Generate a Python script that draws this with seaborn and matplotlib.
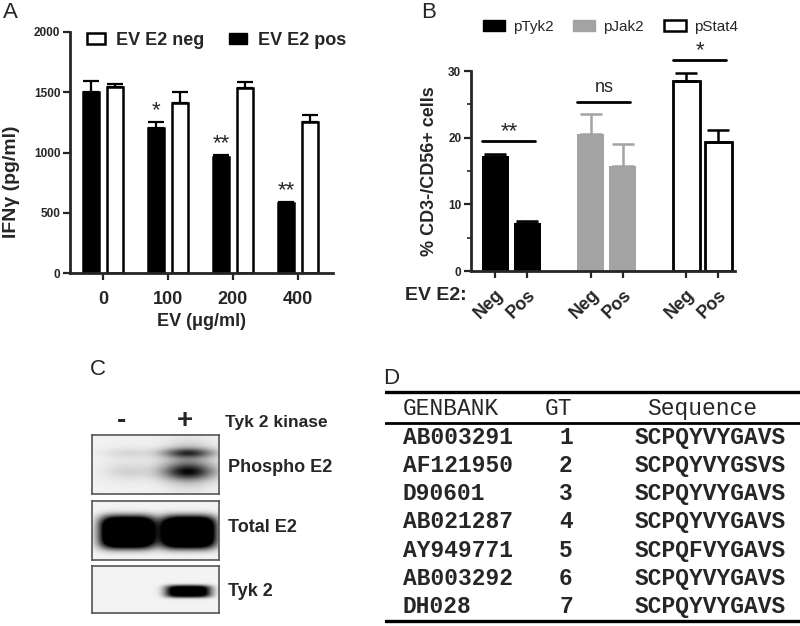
import matplotlib
matplotlib.use("Agg")
import matplotlib.pyplot as plt
from matplotlib.patches import Patch
import numpy as np
import pandas as pd
import seaborn as sns


# ── data ──────────────────────────────────────────────────────────────────────

# panel A: IFNγ release vs EV dose
doses = ["0", "100", "200", "400"]
ifng_pos = [1505, 1205, 965, 580]
ifng_pos_err = [85, 50, 15, 10]
ifng_neg = [1545, 1410, 1535, 1255]
ifng_neg_err = [20, 90, 50, 55]
stars_a = ["", "*", "**", "**"]

# panel B: % CD3-/CD56+ cells
proteins = ["pTyk2", "pJak2", "pStat4"]
conditions = ["Neg", "Pos"]
pct_neg = [17.2, 20.6, 28.5]
pct_neg_err = [0.4, 2.9, 1.2]
pct_pos = [7.2, 15.7, 19.4]
pct_pos_err = [0.25, 3.3, 1.8]
sig_b = ["**", "ns", "*"]

# panel C: western blot band strength per lane (0 = none, 1 = saturated)
blot_rows = ["Phospho E2", "Total E2", "Tyk 2"]
lanes = ["-", "+"]
phospho_signal = [0.10, 0.75]
total_signal = [1.0, 1.0]
tyk2_signal = [0.0, 0.95]

# panel D: table
genbank = ["AB003291", "AF121950", "D90601", "AB021287", "AY949771", "AB003292", "DH028"]
genotype = [1, 2, 3, 4, 5, 6, 7]
sequences = ["SCPQYVYGAVS", "SCPQYVYGSVS", "SCPQYVYGAVS", "SCPQYVYGAVS",
             "SCPQFVYGAVS", "SCPQYVYGAVS", "SCPQYVYGAVS"]


# ── helpers ───────────────────────────────────────────────────────────────────

W, H = 800, 626


def rect(x0, y0, x1, y1):
    return [x0 / W, 1 - y1 / H, (x1 - x0) / W, (y1 - y0) / H]


def ftext(x, y, s, **kw):
    return fig.text(x / W, 1 - y / H, s, **kw)


def sorted_bars(ax):
    return sorted(ax.patches, key=lambda p: p.get_x())


def band(xx, yy, cx, cy, wx, wy, p=4):
    return np.exp(-np.abs((xx - cx) / wx) ** p - np.abs((yy - cy) / wy) ** p)


sns.set_theme(style="ticks")
plt.rcParams["font.family"] = ["Liberation Sans", "DejaVu Sans"]
plt.rcParams["axes.linewidth"] = 2.0

fig = plt.figure(figsize=(8, 6.26), dpi=100)

# ── panel A ───────────────────────────────────────────────────────────────────

axA = fig.add_axes(rect(70, 32, 333, 273))
dfA = pd.DataFrame({"dose": doses * 2,
                    "ifng": ifng_pos + ifng_neg,
                    "group": ["pos"] * 4 + ["neg"] * 4})
sns.barplot(data=dfA, x="dose", y="ifng", hue="group", order=doses,
            hue_order=["pos", "neg"], palette={"pos": "black", "neg": "white"},
            width=0.74, gap=0.33, saturation=1, errorbar=None,
            edgecolor="black", linewidth=1.8, legend=False, ax=axA)

barsA = sorted_bars(axA)
tops = [v for pair in zip(ifng_pos, ifng_neg) for v in pair]
errs = [v for pair in zip(ifng_pos_err, ifng_neg_err) for v in pair]
cx = [b.get_x() + b.get_width() / 2 for b in barsA]
axA.errorbar(cx, tops, yerr=[np.zeros(len(errs)), errs], fmt="none",
             ecolor="black", elinewidth=1.6, capsize=6, capthick=1.6, zorder=1)
for i, s in enumerate(stars_a):
    if s:
        axA.text(cx[2 * i], ifng_pos[i] + ifng_pos_err[i] + 95, s,
                 ha="center", va="center", fontsize=16)

axA.set_ylim(0, 2000)
axA.set_xlim(-0.51, 3.54)
axA.set_yticks(range(0, 2001, 500))
axA.tick_params(axis="y", labelsize=8.5, length=5, width=1.6, pad=2)
axA.tick_params(axis="x", labelsize=13, length=5, width=1.6, pad=8)
for t in axA.get_xticklabels() + axA.get_yticklabels():
    t.set_fontweight("bold")
axA.set_xlabel("EV (\u03bcg/ml)", fontsize=13, fontweight="bold")
axA.xaxis.set_label_coords(0.5, -0.165)
axA.set_ylabel("IFN\u03b3 (pg/ml)", fontsize=14, fontweight="bold")
axA.yaxis.set_label_coords(-0.19, 0.38)
sns.despine(ax=axA)

handlesA = [Patch(facecolor="white", edgecolor="black", linewidth=1.8, label="EV E2 neg"),
            Patch(facecolor="black", edgecolor="black", label="EV E2 pos")]
axA.legend(handles=handlesA, loc="upper left", bbox_to_anchor=((87 - 70) / 263, 1.0),
           ncol=2, frameon=False, prop=dict(weight="bold", size=13),
           handlelength=1.0, handleheight=0.55, handletextpad=0.6,
           columnspacing=1.4, borderpad=0, borderaxespad=0)

# ── panel B ───────────────────────────────────────────────────────────────────

axB = fig.add_axes(rect(471, 71, 735, 271))
dfB = pd.DataFrame({"protein": proteins * 2,
                    "pct": pct_neg + pct_pos,
                    "cond": ["Neg"] * 3 + ["Pos"] * 3})
sns.barplot(data=dfB, x="protein", y="pct", hue="cond", order=proteins,
            hue_order=conditions, palette=["black", "black"],
            width=0.67, gap=0.155, saturation=1, errorbar=None,
            legend=False, ax=axB)

prot_colors = {"pTyk2": "black", "pJak2": "#a3a3a3", "pStat4": "white"}
err_colors = {"pTyk2": "black", "pJak2": "#a3a3a3", "pStat4": "black"}
barsB = sorted_bars(axB)
topsB = [v for pair in zip(pct_neg, pct_pos) for v in pair]
errsB = [v for pair in zip(pct_neg_err, pct_pos_err) for v in pair]
cxB = [b.get_x() + b.get_width() / 2 for b in barsB]
for i, b in enumerate(barsB):
    prot = proteins[i // 2]
    b.set_facecolor(prot_colors[prot])
    if prot == "pStat4":
        b.set_edgecolor("black")
        b.set_linewidth(2.0)
    else:
        b.set_edgecolor(prot_colors[prot])
        b.set_linewidth(0)
    axB.errorbar(cxB[i], topsB[i], yerr=[[0], [errsB[i]]], fmt="none",
                 ecolor=err_colors[prot], elinewidth=1.8, capsize=8,
                 capthick=1.8, zorder=1)

for g, s in enumerate(sig_b):
    c0, c1 = cxB[2 * g], cxB[2 * g + 1]
    y = max(topsB[2 * g] + errsB[2 * g], topsB[2 * g + 1] + errsB[2 * g + 1]) + 1.9
    axB.plot([c0 - 0.14, c1 + 0.08], [y, y], color="black", lw=2, clip_on=False)
    axB.text((c0 + c1) / 2 - 0.02, y + (2.1 if s == "ns" else 1.4), s,
             ha="center", va="center", fontsize=13 if s == "ns" else 16)

axB.set_ylim(0, 30)
axB.set_xlim(-0.419, 2.345)
axB.set_yticks([0, 10, 20, 30])
axB.set_yticks([5, 15, 25], minor=True)
axB.set_xticks(cxB)
axB.set_xticklabels(conditions * 3)
axB.set_xlabel("")
axB.tick_params(axis="y", labelsize=8.5, length=5, width=1.6, pad=2)
axB.tick_params(axis="y", which="minor", length=3, width=1.2)
axB.tick_params(axis="x", labelsize=13, length=5, width=1.6, pad=6)
for t in axB.get_yticklabels():
    t.set_fontweight("bold")
for t in axB.get_xticklabels():
    t.set_fontweight("bold")
    t.set_rotation(45)
    t.set_ha("right")
    t.set_rotation_mode("anchor")
axB.set_ylabel("% CD3-/CD56+ cells", fontsize=13, fontweight="bold")
axB.yaxis.set_label_coords(-0.125, 0.5)
sns.despine(ax=axB)

handlesB = [Patch(facecolor="black", edgecolor="black", label="pTyk2"),
            Patch(facecolor="#a3a3a3", edgecolor="#a3a3a3", label="pJak2"),
            Patch(facecolor="white", edgecolor="black", linewidth=1.8, label="pStat4")]
axB.legend(handles=handlesB, loc="upper left", bbox_to_anchor=((483 - 471) / 264, 1.255),
           ncol=3, frameon=False, fontsize=11, handlelength=1.44, handleheight=0.72,
           handletextpad=0.52, columnspacing=1.3, borderpad=0, borderaxespad=0)
ftext(405, 296, "EV E2:", fontsize=14, fontweight="bold", va="center")

# ── panel C: blot ─────────────────────────────────────────────────────────────

blot_boxes = [(92, 435, 219, 494), (92, 501, 219, 560), (92, 566, 219, 613)]
lane_cx = [0.28, 0.76]
signals = [phospho_signal, total_signal, tyk2_signal]
for k, (bx, sig) in enumerate(zip(blot_boxes, signals)):
    ax = fig.add_axes(rect(*bx))
    hpx, wpx = bx[3] - bx[1], bx[2] - bx[0]
    xx, yy = np.meshgrid(np.linspace(0, 1, wpx), np.linspace(0, 1, hpx))
    img = np.full_like(xx, 0.05)
    for c, s in zip(lane_cx, sig):
        if k == 0:
            img += s * (0.75 * band(xx, yy, c, 0.30, 0.2, 0.08, 2)
                        + 0.85 * band(xx, yy, c, 0.63, 0.2, 0.13, 2)
                        + 0.45 * band(xx, yy, c, 0.50, 0.2, 0.35, 2))
        elif k == 1:
            img += s * 1.8 * band(xx, yy, c, 0.53, 0.22, 0.28, 4)
        else:
            img += s * 1.4 * band(xx, yy, c, 0.55, 0.18, 0.13, 4)
    ax.imshow(np.clip(img, 0, 1), cmap="gray_r", vmin=0, vmax=1, aspect="auto",
              interpolation="bilinear", extent=(0, 1, 1, 0))
    ax.set_xticks([])
    ax.set_yticks([])
    for sp in ax.spines.values():
        sp.set_color("#555555")
        sp.set_linewidth(1.2)

ftext(121, 421, lanes[0], fontsize=20, fontweight="bold", ha="center", va="center")
ftext(185, 421, lanes[1], fontsize=20, fontweight="bold", ha="center", va="center")
ftext(225, 423, "Tyk 2 kinase", fontsize=12.5, fontweight="bold", va="center")
for lab, yc in zip(blot_rows, [468, 528, 592]):
    ftext(228, yc, lab, fontsize=13, fontweight="bold", va="center")

# ── panel D: table ────────────────────────────────────────────────────────────

axT = fig.add_axes(rect(385, 387, 800, 626))
axT.axis("off")
axT.set_xlim(0, 1)
axT.set_ylim(6.7, -1.8)
axT.axhline(-1.62, color="black", lw=2.4)
axT.axhline(-0.52, color="black", lw=2.0)
axT.axhline(6.53, color="black", lw=2.4)
mono = dict(family="Liberation Mono", fontsize=16.5, va="center")
axT.text(0.043, -1.05, "GENBANK", ha="left", **mono)
axT.text(0.419, -1.05, "GT", ha="center", **mono)
axT.text(0.764, -1.05, "Sequence", ha="center", **mono)
for i, (gb, gt, sq) in enumerate(zip(genbank, genotype, sequences)):
    axT.text(0.043, i, gb, ha="left", fontweight="bold", **mono)
    axT.text(0.436, i, str(gt), ha="center", fontweight="bold", **mono)
    axT.text(0.783, i, sq, ha="center", fontweight="bold", **mono)

# ── panel letters ─────────────────────────────────────────────────────────────

for lab, x, y in [("A", 3, 12), ("B", 421, 12), ("C", 90, 369), ("D", 383, 378)]:
    ftext(x, y, lab, fontsize=16, va="center")

fig.savefig("out.png", dpi=100)
